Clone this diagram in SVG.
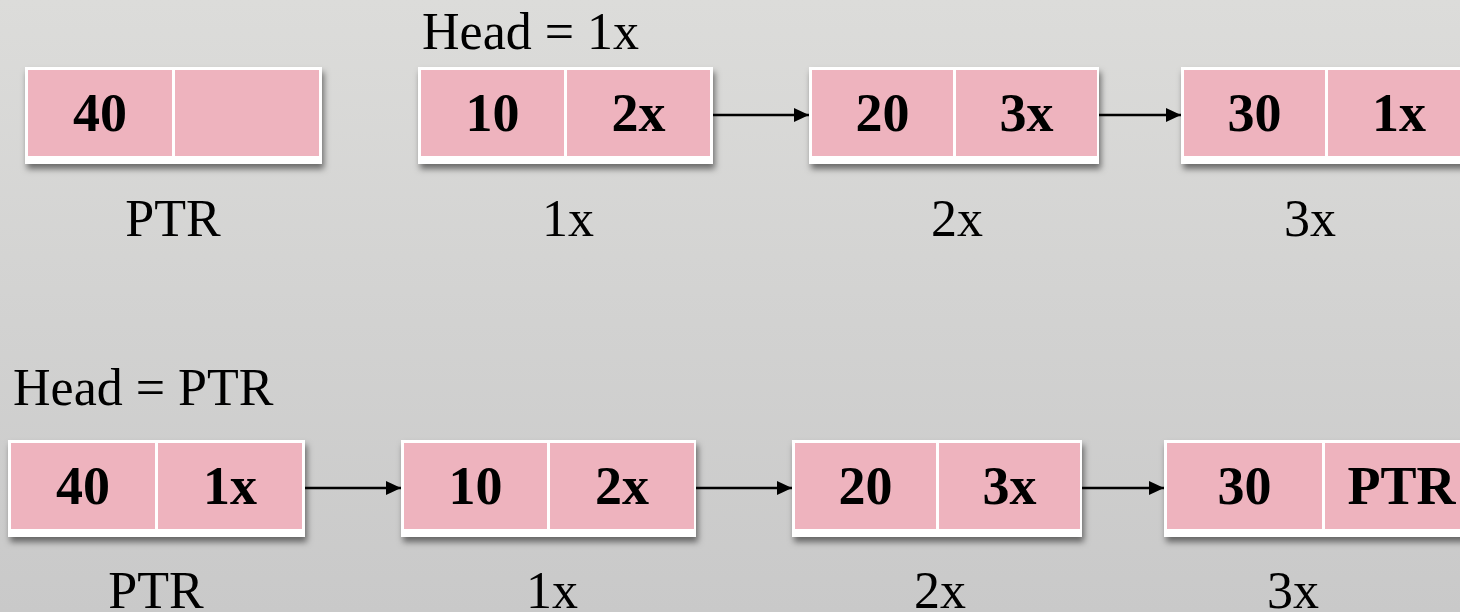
<svg xmlns="http://www.w3.org/2000/svg" width="1460" height="612" viewBox="0 0 1460 612">
<defs>
<linearGradient id="bg" x1="0" y1="0" x2="0" y2="1">
<stop offset="0" stop-color="#dcdcda"/>
<stop offset="1" stop-color="#c9c9c9"/>
</linearGradient>
<filter id="sh" x="-10%" y="-20%" width="120%" height="150%">
<feDropShadow dx="2" dy="5" stdDeviation="3" flood-color="#000" flood-opacity="0.5"/>
</filter>
<marker id="ah" markerUnits="userSpaceOnUse" markerWidth="16" markerHeight="16" refX="15" refY="8" orient="auto">
<path d="M0,1 L15,8 L0,15 z" fill="#000"/>
</marker>
</defs>
<style>
.outer{fill:#ffffff;filter:url(#sh)}
.cell{fill:#eeb3be}
.val{font-family:"Liberation Serif",serif;font-weight:bold;font-size:54px;fill:#000;text-anchor:middle}
.lbl{font-family:"Liberation Serif",serif;font-size:52px;fill:#000;text-anchor:middle}
.head{font-family:"Liberation Serif",serif;font-size:52px;fill:#000}
.conn{stroke:#000;stroke-width:2.5;fill:none;marker-end:url(#ah)}
</style>
<rect x="0" y="0" width="1460" height="612" fill="url(#bg)"/>

<text class="head" x="422" y="49">Head = 1x</text>
<text class="head" x="13" y="405">Head = PTR</text>

<g id="top-ptr">
<rect class="outer" x="25" y="67" width="297" height="97"/>
<rect class="cell" x="28" y="70" width="144" height="86"/>
<rect class="cell" x="175" y="70" width="144" height="86"/>
<text class="val" x="100" y="131">40</text>
<text class="lbl" x="173" y="236">PTR</text>
</g>
<g id="top-1x">
<rect class="outer" x="418" y="67" width="295" height="97"/>
<rect class="cell" x="421" y="70" width="143" height="86"/>
<rect class="cell" x="567" y="70" width="143" height="86"/>
<text class="val" x="492.5" y="131">10</text>
<text class="val" x="638.5" y="131">2x</text>
<text class="lbl" x="568" y="236">1x</text>
</g>
<g id="top-2x">
<rect class="outer" x="809" y="67" width="290" height="97"/>
<rect class="cell" x="812" y="70" width="141" height="86"/>
<rect class="cell" x="956" y="70" width="141" height="86"/>
<text class="val" x="882.5" y="131">20</text>
<text class="val" x="1026.5" y="131">3x</text>
<text class="lbl" x="957" y="236">2x</text>
</g>
<g id="top-3x">
<rect class="outer" x="1181" y="67" width="300" height="97"/>
<rect class="cell" x="1184" y="70" width="141" height="86"/>
<rect class="cell" x="1328" y="70" width="145" height="86"/>
<text class="val" x="1254.5" y="131">30</text>
<text class="val" x="1399" y="131">1x</text>
<text class="lbl" x="1310" y="236">3x</text>
</g>

<g id="bot-ptr">
<rect class="outer" x="8" y="440" width="297" height="97"/>
<rect class="cell" x="11" y="443" width="144" height="86"/>
<rect class="cell" x="158" y="443" width="144" height="86"/>
<text class="val" x="83" y="504">40</text>
<text class="val" x="230" y="504">1x</text>
<text class="lbl" x="156" y="608">PTR</text>
</g>
<g id="bot-1x">
<rect class="outer" x="401" y="440" width="295" height="97"/>
<rect class="cell" x="404" y="443" width="143" height="86"/>
<rect class="cell" x="550" y="443" width="144" height="86"/>
<text class="val" x="475.5" y="504">10</text>
<text class="val" x="622" y="504">2x</text>
<text class="lbl" x="552" y="608">1x</text>
</g>
<g id="bot-2x">
<rect class="outer" x="792" y="440" width="290" height="97"/>
<rect class="cell" x="795" y="443" width="141" height="86"/>
<rect class="cell" x="939" y="443" width="141" height="86"/>
<text class="val" x="865.5" y="504">20</text>
<text class="val" x="1009.5" y="504">3x</text>
<text class="lbl" x="940" y="608">2x</text>
</g>
<g id="bot-3x">
<rect class="outer" x="1164" y="440" width="320" height="97"/>
<rect class="cell" x="1167" y="443" width="155" height="86"/>
<rect class="cell" x="1325" y="443" width="155" height="86"/>
<text class="val" x="1244.5" y="504">30</text>
<text class="val" x="1401.5" y="504">PTR</text>
<text class="lbl" x="1293" y="608">3x</text>
</g>

<g id="connectors">
<line class="conn" x1="713" y1="115" x2="809" y2="115"/>
<line class="conn" x1="1099" y1="115" x2="1181" y2="115"/>
<line class="conn" x1="305" y1="488" x2="401" y2="488"/>
<line class="conn" x1="696" y1="488" x2="792" y2="488"/>
<line class="conn" x1="1082" y1="488" x2="1164" y2="488"/>
</g>
</svg>
